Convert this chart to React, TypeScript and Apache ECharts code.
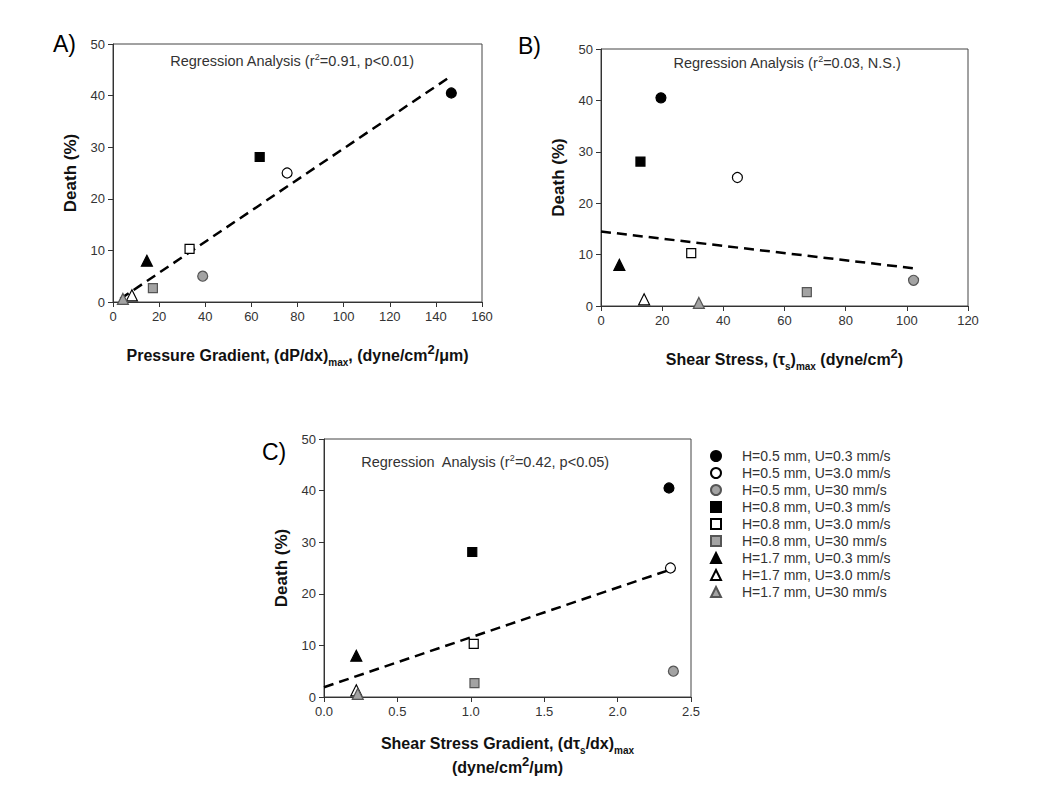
import React, { useEffect, useRef } from "react";
import * as echarts from "echarts";

// ---------- data ----------
const groups = [
  "H=0.5 mm, U=0.3 mm/s",
  "H=0.5 mm, U=3.0 mm/s",
  "H=0.5 mm, U=30 mm/s",
  "H=0.8 mm, U=0.3 mm/s",
  "H=0.8 mm, U=3.0 mm/s",
  "H=0.8 mm, U=30 mm/s",
  "H=1.7 mm, U=0.3 mm/s",
  "H=1.7 mm, U=3.0 mm/s",
  "H=1.7 mm, U=30 mm/s",
];
const death = [40.5, 25.0, 5.0, 28.1, 10.3, 2.7, 8.0, 1.3, 0.6];
const pressureGradient = [146.7, 75.5, 38.9, 63.6, 33.2, 17.3, 14.7, 8.2, 4.3];
const shearStress = [19.6, 44.6, 102.2, 12.9, 29.5, 67.3, 6.0, 14.1, 32.0];
const shearStressGradient = [2.35, 2.36, 2.38, 1.01, 1.02, 1.025, 0.22, 0.22, 0.23];
const fitA = [[3.2, 0.6], [147, 43.9]];
const fitB = [[0, 14.5], [102.7, 7.3]];
const fitC = [[0, 1.9], [2.35, 24.6]];
const regressionLabels = ["(r", "=0.91, p<0.01)", "=0.03, N.S.)", "=0.42, p<0.05)"];
const panelLabels = ["A)", "B)", "C)"];

// ---------- styles ----------
const FONT = "'Liberation Sans', Arial, sans-serif";
const shapes = ["circle", "rect", "triangle"];
const fills = ["#000000", "#ffffff", "#a3a3a3"];
const borders = ["#000000", "#000000", "#555555"];
const sizes = [10, 9, 11];

const richTitle = {
  b: { fontSize: 16, fontWeight: "bold", color: "#111", fontFamily: FONT, lineHeight: 24 },
  sub: { fontSize: 10, fontWeight: "bold", color: "#111", fontFamily: FONT, lineHeight: 10, verticalAlign: "bottom" },
  sup: { fontSize: 13, fontWeight: "bold", color: "#111", fontFamily: FONT, lineHeight: 10, verticalAlign: "top" },
};

export default function App() {
  const ref = useRef<HTMLDivElement>(null);
  useEffect(() => {
    if (!ref.current) return;
    const chart = echarts.init(ref.current, undefined, { renderer: "svg" });
    const grids = [
      { left: 113, top: 44, width: 369, height: 258 },
      { left: 601, top: 49, width: 367, height: 257 },
      { left: 324, top: 439, width: 367, height: 258 },
    ];
    const xs = [pressureGradient, shearStress, shearStressGradient];
    const fits = [fitA, fitB, fitC];
    const xRanges = [
      { min: 0, max: 160, interval: 20 },
      { min: 0, max: 120, interval: 20 },
      { min: 0, max: 2.5, interval: 0.5 },
    ];
    const xNames = [
      "{b|Pressure Gradient, (dP/dx)}{sub|max}{b|, (dyne/cm}{sup|2}{b|/μm)}",
      "{b|Shear Stress, (τ}{sub|s}{b|)}{sub|max}{b| (dyne/cm}{sup|2}{b|)}",
      "{b|Shear Stress Gradient, (dτ}{sub|s}{b|/dx)}{sub|max}\n{b|(dyne/cm}{sup|2}{b|/μm)}",
    ];
    const axisCommon = {
      axisLine: { show: true, onZero: false, lineStyle: { color: "#333", width: 1 } },
      axisTick: { show: true, length: 5, lineStyle: { color: "#333" } },
      splitLine: { show: false },
    };
    const xAxis = grids.map((_, p) => ({
      type: "value",
      gridIndex: p,
      ...xRanges[p],
      ...axisCommon,
      axisLabel: {
        fontSize: 13,
        color: "#333",
        fontFamily: FONT,
        margin: 8,
        formatter: (v: number) => (p === 2 ? v.toFixed(1) : String(v)),
      },
      name: xNames[p],
      nameLocation: "middle",
      nameGap: p === 2 ? 34 : 41,
      nameTextStyle: { rich: richTitle },
    }));
    const yAxis = grids.map((_, p) => ({
      type: "value",
      gridIndex: p,
      min: 0,
      max: 50,
      interval: 10,
      ...axisCommon,
      axisLabel: { fontSize: 13, color: "#333", fontFamily: FONT, margin: 8 },
      name: "Death (%)",
      nameLocation: "middle",
      nameGap: 34,
      nameTextStyle: { fontSize: 17, fontWeight: "bold", color: "#111", fontFamily: FONT },
    }));
    const series: any[] = [];
    for (let p = 0; p < 3; p++) {
      series.push({
        type: "line",
        xAxisIndex: p,
        yAxisIndex: p,
        data: fits[p],
        symbol: "none",
        z: 1,
        lineStyle: { color: "#000", width: 2.5, type: [10, 6] },
        silent: true,
      });
      for (let i = 0; i < groups.length; i++) {
        const s = Math.floor(i / 3);
        const f = i % 3;
        series.push({
          type: "scatter",
          name: groups[i],
          xAxisIndex: p,
          yAxisIndex: p,
          data: [[xs[p][i], death[i]]],
          symbol: shapes[s],
          symbolSize: sizes[s],
          z: 3,
          itemStyle: { color: fills[f], borderColor: borders[f], borderWidth: 1.2, opacity: 1 },
        });
      }
    }
    const regPos = [
      [292, 61],
      [787, 63],
      [485, 462],
    ];
    const graphic: any[] = [];
    regPos.forEach((pos, p) => {
      graphic.push({
        type: "text",
        x: pos[0],
        y: pos[1],
        style: {
          text:
            "{t|Regression" + (p === 2 ? "  " : " ") + "Analysis " + regressionLabels[0] + "}{s|2}{t|" + regressionLabels[p + 1] + "}",
          rich: {
            t: { fontSize: 14.5, fontFamily: FONT, fill: "#333", lineHeight: 18 },
            s: { fontSize: 9, fontFamily: FONT, fill: "#333", lineHeight: 9, verticalAlign: "top" },
          },
          align: "center",
          verticalAlign: "middle",
        },
      });
    });
    const labelPos = [
      [53, 44],
      [518, 46],
      [262, 452],
    ];
    labelPos.forEach((pos, p) => {
      graphic.push({
        type: "text",
        x: pos[0],
        y: pos[1],
        style: {
          text: panelLabels[p],
          fontSize: 23,
          fontFamily: FONT,
          fill: "#000",
          align: "left",
          verticalAlign: "middle",
        },
      });
    });
    chart.setOption({
      animation: false,
      backgroundColor: "#fff",
      textStyle: { fontFamily: FONT },
      grid: grids.map((g) => ({ ...g, show: true, borderColor: "#444", borderWidth: 1, backgroundColor: "transparent" })),
      xAxis,
      yAxis,
      series,
      legend: {
        data: groups,
        orient: "vertical",
        left: 710,
        top: 449,
        padding: 0,
        itemWidth: 10,
        itemHeight: 10,
        itemGap: 3,
        selectedMode: false,
        textStyle: { fontSize: 14, color: "#333", fontFamily: FONT, lineHeight: 12, padding: [0, 0, 0, 16] },
      },
      graphic,
    });
    return () => chart.dispose();
  }, []);
  return <div ref={ref} style={{ position: "fixed", left: 0, top: 0, width: 1050, height: 788 }} />;
}
